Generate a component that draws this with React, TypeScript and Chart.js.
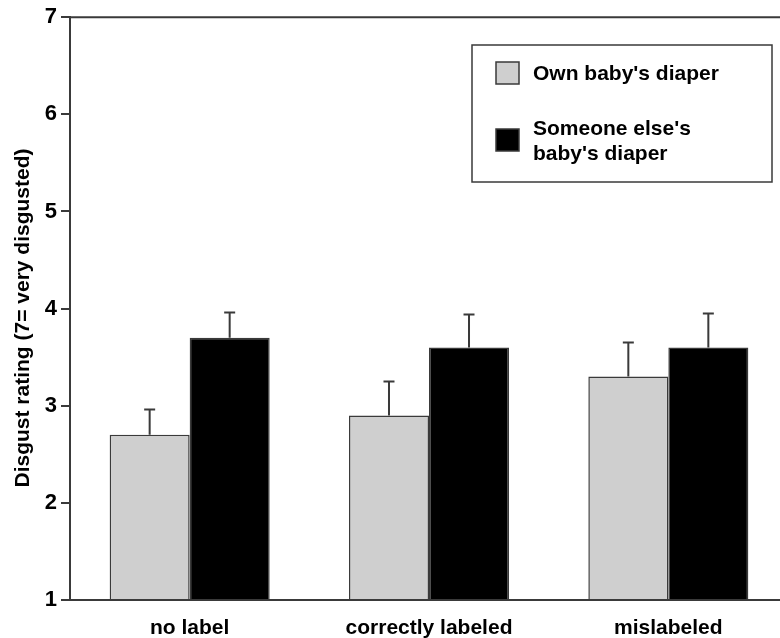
import React, { useEffect, useRef } from "react";
import { Chart, registerables } from "chart.js";

Chart.register(...registerables);

const categories = ["no label", "correctly labeled", "mislabeled"];
const ownValues = [2.7, 2.9, 3.3];
const ownErrorTop = [2.96, 3.25, 3.65];
const elseValues = [3.7, 3.6, 3.6];
const elseErrorTop = [3.96, 3.94, 3.95];
const legendLabels = [["Own baby's diaper"], ["Someone else's", "baby's diaper"]];
const yTicks = [1, 2, 3, 4, 5, 6, 7];
const yTitle = "Disgust rating (7= very disgusted)";

const FONT = "'Liberation Sans', Arial, Helvetica, sans-serif";
const AXIS_COLOR = "#3a3a3a";

const errorBarPlugin = {
  id: "errorBars",
  afterDatasetsDraw(chart: any) {
    const ctx = chart.ctx;
    const yScale = chart.scales.y;
    const errs = [ownErrorTop, elseErrorTop];
    ctx.save();
    ctx.strokeStyle = AXIS_COLOR;
    ctx.lineWidth = 2;
    chart.data.datasets.forEach((_: any, di: number) => {
      const meta = chart.getDatasetMeta(di);
      meta.data.forEach((bar: any, i: number) => {
        const yTop = yScale.getPixelForValue(errs[di][i]);
        ctx.beginPath();
        ctx.moveTo(bar.x, bar.y);
        ctx.lineTo(bar.x, yTop);
        ctx.moveTo(bar.x - 5.5, yTop);
        ctx.lineTo(bar.x + 5.5, yTop);
        ctx.stroke();
      });
    });
    ctx.restore();
  },
};

const framePlugin = {
  id: "frameAndLegend",
  afterDraw(chart: any) {
    const ctx = chart.ctx;
    const area = chart.chartArea;
    ctx.save();
    // top frame line
    ctx.strokeStyle = AXIS_COLOR;
    ctx.lineWidth = 2;
    ctx.beginPath();
    ctx.moveTo(area.left - 1, area.top);
    ctx.lineTo(chart.width, area.top);
    ctx.stroke();

    // y axis title
    ctx.save();
    ctx.translate(23, 318);
    ctx.rotate(-Math.PI / 2);
    ctx.font = `bold 21px ${FONT}`;
    ctx.fillStyle = "#000";
    ctx.textAlign = "center";
    ctx.textBaseline = "middle";
    ctx.fillText(yTitle, 0, 0);
    ctx.restore();

    // legend box
    const bx = 472, by = 45, bw = 300, bh = 137;
    ctx.fillStyle = "#fff";
    ctx.fillRect(bx, by, bw, bh);
    ctx.lineWidth = 1.5;
    ctx.strokeStyle = AXIS_COLOR;
    ctx.strokeRect(bx, by, bw, bh);

    const swatchY = [62, 129];
    ctx.font = `bold 21px ${FONT}`;
    ctx.textBaseline = "middle";
    ctx.textAlign = "left";
    chart.data.datasets.forEach((ds: any, i: number) => {
      const sy = swatchY[i];
      ctx.fillStyle = ds.backgroundColor;
      ctx.fillRect(496, sy, 23, 22);
      ctx.lineWidth = 1.5;
      ctx.strokeStyle = AXIS_COLOR;
      ctx.strokeRect(496, sy, 23, 22);
      ctx.fillStyle = "#000";
      const lines = legendLabels[i];
      lines.forEach((ln, li) => {
        ctx.fillText(ln, 533, (lines.length === 1 ? sy + 12 : sy) + li * 25);
      });
    });
    ctx.restore();
  },
};

export default function App() {
  const ref = useRef<HTMLCanvasElement | null>(null);
  useEffect(() => {
    if (!ref.current) return;
    const chart = new Chart(ref.current, {
      type: "bar",
      data: {
        labels: categories,
        datasets: [
          {
            label: legendLabels[0].join(" "),
            data: ownValues,
            backgroundColor: "#cfcfcf",
            borderColor: AXIS_COLOR,
            borderWidth: 1.5,
            base: 1,
          } as any,
          {
            label: legendLabels[1].join(" "),
            data: elseValues,
            backgroundColor: "#000000",
            borderColor: AXIS_COLOR,
            borderWidth: 1.5,
            base: 1,
          } as any,
        ],
      },
      options: {
        responsive: false,
        animation: false,
        maintainAspectRatio: false,
        layout: { padding: { top: 14, left: 0, right: 0, bottom: 0 } },
        datasets: { bar: { categoryPercentage: 0.6686, barPercentage: 1 } },
        plugins: {
          legend: { display: false },
          tooltip: { enabled: false },
        },
        scales: {
          x: {
            grid: { display: false },
            border: { display: true, color: AXIS_COLOR, width: 2 },
            ticks: {
              color: "#000",
              font: { family: FONT, size: 21, weight: "bold" },
              padding: 8,
            },
            afterFit: (s: any) => {
              s.height = 38;
            },
          },
          y: {
            min: 1,
            max: 7,
            afterBuildTicks: (s: any) => {
              s.ticks = yTicks.map((v) => ({ value: v }));
            },
            ticks: {
              color: "#000",
              font: { family: FONT, size: 22, weight: "bold" },
              padding: 4,
            },
            grid: {
              drawOnChartArea: false,
              drawTicks: true,
              tickLength: 9,
              color: AXIS_COLOR,
              lineWidth: 2,
            },
            border: { display: true, color: AXIS_COLOR, width: 2 },
            title: { display: false, text: yTitle },
            afterFit: (s: any) => {
              s.width = 70;
            },
          },
        },
      },
      plugins: [errorBarPlugin, framePlugin],
    });
    return () => chart.destroy();
  }, []);
  return (
    <div
      style={{
        position: "fixed",
        left: 0,
        top: 0,
        width: 780,
        height: 638,
        overflow: "hidden",
        background: "#fff",
      }}
    >
      <canvas ref={ref} width={788} height={638} style={{ display: "block" }} />
    </div>
  );
}
